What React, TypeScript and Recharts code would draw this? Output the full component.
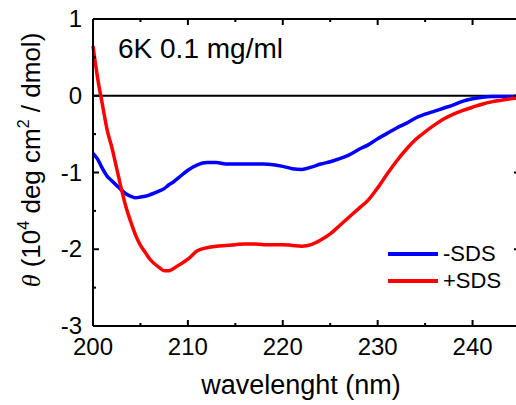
import { LineChart, Line, XAxis, YAxis, ReferenceLine, Legend } from "recharts";

const FONT = '"Liberation Sans", Arial, sans-serif';

const wavelength = [
  200, 200.5, 201, 201.5, 202, 202.5, 203, 203.5, 204, 204.5, 205, 205.5, 206,
  207, 207.5, 208, 208.5, 209, 210, 211, 212, 213, 214, 215, 216, 217, 218, 219,
  220, 221, 222, 223, 224, 225, 226, 227, 228, 229, 230, 231, 232, 233, 234, 235,
  236, 237, 238, 239, 240, 241, 242, 243, 244, 245,
];

const minusSDS = [
  -0.75, -0.83, -0.95, -1.05, -1.11, -1.17, -1.23, -1.28, -1.31, -1.33, -1.32,
  -1.31, -1.29, -1.24, -1.21, -1.16, -1.12, -1.07, -0.97, -0.9, -0.87, -0.87,
  -0.89, -0.89, -0.89, -0.89, -0.89, -0.9, -0.92, -0.95, -0.96, -0.93, -0.89,
  -0.86, -0.82, -0.77, -0.7, -0.64, -0.56, -0.49, -0.42, -0.36, -0.29, -0.24,
  -0.2, -0.16, -0.12, -0.07, -0.04, -0.02, -0.01, -0.01, -0.01, 0.0,
];

const plusSDS = [
  0.65, 0.22, -0.12, -0.45, -0.68, -0.95, -1.22, -1.46, -1.65, -1.82, -1.95,
  -2.04, -2.13, -2.24, -2.28, -2.28, -2.25, -2.21, -2.13, -2.02, -1.98, -1.96,
  -1.95, -1.94, -1.93, -1.93, -1.94, -1.94, -1.94, -1.95, -1.96, -1.94, -1.88,
  -1.8, -1.69, -1.58, -1.47, -1.36, -1.2, -1.02, -0.85, -0.7, -0.57, -0.47,
  -0.38, -0.3, -0.24, -0.19, -0.15, -0.11, -0.08, -0.06, -0.04, -0.03,
];

const xTicks = [200, 205, 210, 215, 220, 225, 230, 235, 240, 245];
const yTicks = [-3, -2.5, -2, -1.5, -1, -0.5, 0, 0.5, 1];

const data = wavelength.map((w, i) => ({
  w,
  minus: minusSDS[i],
  plus: plusSDS[i],
}));

// plot box edges (chart margins keep them here); right edge falls just off the page
const PLOT_TOP = 19;
const PLOT_RIGHT = 520;

// inward ticks on all four sides, drawn from the bottom/left axis ticks
const BottomTick = (props: any) => {
  const x = Number(props.x);
  const y = Number(props.y);
  const v = props.payload.value;
  const major = v % 10 === 0;
  const len = major ? 6 : 3;
  return (
    <g>
      <rect x={x - 1} y={y - len} width={2} height={len} fill="#000" />
      <rect x={x - 1} y={PLOT_TOP} width={2} height={len} fill="#000" />
      {major && (
        <text x={x} y={y + 29} textAnchor="middle" fontSize={24} fontFamily={FONT} fill="#000">
          {v}
        </text>
      )}
    </g>
  );
};

const LeftTick = (props: any) => {
  const x = Number(props.x);
  const y = Number(props.y);
  const v = props.payload.value;
  const major = Number.isInteger(v);
  const len = major ? 6 : 3;
  return (
    <g>
      <rect x={x} y={y - 1} width={len} height={2} fill="#000" />
      <rect x={PLOT_RIGHT - len} y={y - 1} width={len} height={2} fill="#000" />
      {major && (
        <text x={x - 11} y={y + 8} textAnchor="end" fontSize={24} fontFamily={FONT} fill="#000">
          {v}
        </text>
      )}
    </g>
  );
};

const YTitle = () => (
  <text
    transform="translate(40,160) rotate(-90)"
    textAnchor="middle"
    fontSize={26}
    fontFamily={FONT}
    fill="#000"
  >
    <tspan fontStyle="italic" fontFamily='"Liberation Serif", serif'>θ</tspan>
    <tspan> (10</tspan>
    <tspan dy={-11} fontSize={16}>4</tspan>
    <tspan dy={11}> deg cm</tspan>
    <tspan dy={-11} fontSize={16}>2</tspan>
    <tspan dy={11}> / dmol)</tspan>
  </text>
);

const XTitle = () => (
  <text x={301} y={394} textAnchor="middle" fontSize={27} fontFamily={FONT} fill="#000">
    wavelenght (nm)
  </text>
);

const LegendBox = ({ payload }: any) => (
  <div style={{ fontFamily: FONT, fontSize: 22, color: "#000" }}>
    {(payload || []).map((p: any) => (
      <div key={p.value} style={{ display: "flex", alignItems: "center", height: 27 }}>
        <div style={{ width: 50, height: 4, background: p.color, marginRight: 5 }} />
        <span>{p.value}</span>
      </div>
    ))}
  </div>
);

export default function App() {
  return (
    <div
      style={{
        position: "fixed",
        left: 0,
        top: 0,
        width: 516,
        height: 405,
        overflow: "hidden",
        background: "#fff",
      }}
    >
      <LineChart
        width={540}
        height={405}
        data={data}
        margin={{ top: PLOT_TOP, right: 540 - PLOT_RIGHT, bottom: 0, left: 0 }}
      >
        <XAxis
          dataKey="w"
          type="number"
          domain={[200, 245]}
          ticks={xTicks}
          interval={0}
          height={79}
          tickSize={0}
          tickMargin={0}
          axisLine={{ stroke: "#000", strokeWidth: 2 }}
          tickLine={false}
          tick={<BottomTick />}
          label={<XTitle />}
        />
        <YAxis
          type="number"
          domain={[-3, 1]}
          ticks={yTicks}
          interval={0}
          width={93}
          tickSize={0}
          tickMargin={0}
          axisLine={{ stroke: "#000", strokeWidth: 2 }}
          tickLine={false}
          tick={<LeftTick />}
          label={<YTitle />}
        />
        <ReferenceLine y={1} stroke="#000" strokeWidth={2} ifOverflow="visible" />
        <ReferenceLine y={0} stroke="#000" strokeWidth={2} />
        <Line
          dataKey="minus"
          name="-SDS"
          stroke="#0000ff"
          strokeWidth={3.5}
          dot={false}
          type="monotone"
          isAnimationActive={false}
        />
        <Line
          dataKey="plus"
          name="+SDS"
          stroke="#ff0000"
          strokeWidth={3.5}
          dot={false}
          type="monotone"
          isAnimationActive={false}
        />
        <Legend
          layout="horizontal"
          verticalAlign="middle"
          align="center"
          itemSorter="dataKey"
          content={<LegendBox />}
          wrapperStyle={{ left: 388, top: 240, width: 130 }}
        />
        <text x={118} y={58} fontSize={28} fontFamily={FONT} fill="#000">
          6K 0.1 mg/ml
        </text>
      </LineChart>
    </div>
  );
}
